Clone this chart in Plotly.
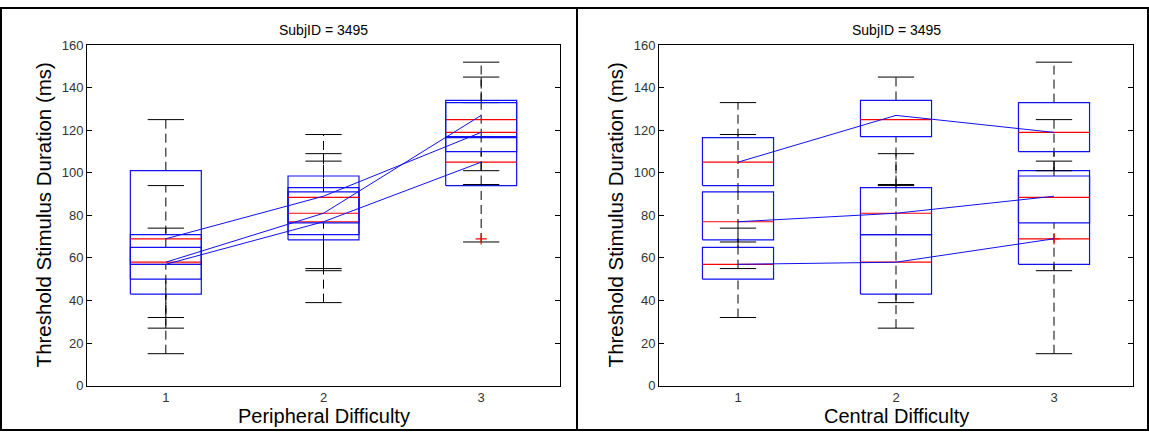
import plotly.graph_objects as go

W, H = 1149, 439

# Difficulty levels (positions on both x axes)
levels = [1, 2, 3]
tick_text = ["1", "2", "3"]
y_ticks = [0, 20, 40, 60, 80, 100, 120, 140, 160]

# Box statistics per condition: rows = peripheral difficulty 1..3,
# columns = central difficulty 1..3
q1 = [[50, 43, 57], [68.5, 71, 76.5], [94, 117, 110]]
median = [[57, 58, 69], [77, 81, 88.5], [105, 125, 119]]
q3 = [[65, 71, 101], [91, 93, 98.5], [116.5, 134, 133]]
whisker_lo = [[32, 27, 15], [55, 39, 54], [67.5, 94.5, 101]]
whisker_hi = [[74, 94, 125], [118, 109, 105.5], [133, 145, 152]]
outliers = [[[], [], []], [[], [], []], [[], [], [69]]]
# Condition means joined by the connecting lines
means = [[57, 58, 69], [77, 81, 89], [105, 127, 119]]

subject_title = "SubjID = 3495"
y_title = "Threshold Stimulus Duration (ms)"
x_titles = ["Peripheral Difficulty", "Central Difficulty"]

FONT = "Liberation Sans, Arial, Helvetica, sans-serif"
BLUE = "#1010f0"
RED = "#ff0000"
BOX_HALF = 0.225
CAP_HALF = 0.115


def px_x(p):
    return p / W


def px_y(p):
    return 1 - p / H


fig = go.Figure()


def add_box(x, lo, a, m, b, hi, outs, xa, ya):
    common = dict(xaxis=xa, yaxis=ya, hoverinfo="skip", showlegend=False)
    # whiskers
    fig.add_trace(go.Scatter(x=[x, x, None, x, x], y=[b, hi, None, lo, a], mode="lines",
                             line=dict(color="black", width=1, dash="9px,5px"), **common))
    # whisker caps
    fig.add_trace(go.Scatter(x=[x - CAP_HALF, x + CAP_HALF, None, x - CAP_HALF, x + CAP_HALF],
                             y=[hi, hi, None, lo, lo], mode="lines",
                             line=dict(color="black", width=1), **common))
    # box
    fig.add_trace(go.Scatter(x=[x - BOX_HALF, x + BOX_HALF, x + BOX_HALF, x - BOX_HALF, x - BOX_HALF],
                             y=[a, a, b, b, a], mode="lines",
                             line=dict(color=BLUE, width=1.2), **common))
    # median
    fig.add_trace(go.Scatter(x=[x - BOX_HALF, x + BOX_HALF], y=[m, m], mode="lines",
                             line=dict(color=RED, width=1.2), **common))
    if outs:
        fig.add_trace(go.Scatter(x=[x] * len(outs), y=outs, mode="markers",
                                 marker=dict(symbol="cross-thin", size=8,
                                             line=dict(color=RED, width=1.2)), **common))


# Left panel: grouped by peripheral difficulty, one box per central level
for c in range(3):
    for p in range(3):
        add_box(levels[p], whisker_lo[p][c], q1[p][c], median[p][c], q3[p][c],
                whisker_hi[p][c], outliers[p][c], "x", "y")
for c in range(3):
    fig.add_trace(go.Scatter(x=levels, y=[means[p][c] for p in range(3)], mode="lines",
                             line=dict(color=BLUE, width=1), xaxis="x", yaxis="y",
                             hoverinfo="skip", showlegend=False))

# Right panel: grouped by central difficulty, one box per peripheral level
for p in range(3):
    for c in range(3):
        add_box(levels[c], whisker_lo[p][c], q1[p][c], median[p][c], q3[p][c],
                whisker_hi[p][c], outliers[p][c], "x2", "y2")
for p in range(3):
    fig.add_trace(go.Scatter(x=levels, y=means[p], mode="lines",
                             line=dict(color=BLUE, width=1), xaxis="x2", yaxis="y2",
                             hoverinfo="skip", showlegend=False))

ydom = [px_y(392), px_y(39.5)]
xdoms = [[px_x(87), px_x(560)], [px_x(659), px_x(1133)]]

xcommon = dict(range=[0.5, 3.5], tickvals=levels, ticktext=tick_text, ticks="",
               showline=True, linecolor="black", linewidth=1, mirror=True,
               showgrid=False, zeroline=False,
               tickfont=dict(family=FONT, size=13, color="#333333"))
ycommon = dict(range=[0, 160], tickvals=y_ticks, ticks="inside", ticklen=5,
               tickcolor="black", tickwidth=1,
               showline=True, linecolor="black", linewidth=1, mirror="ticks",
               showgrid=False, zeroline=False,
               tickfont=dict(family=FONT, size=13, color="#333333"))

fig.update_layout(
    width=W, height=H, margin=dict(l=0, r=0, t=0, b=0),
    paper_bgcolor="white", plot_bgcolor="white", showlegend=False,
    xaxis=dict(domain=xdoms[0], anchor="y", **xcommon),
    yaxis=dict(domain=ydom, anchor="x", **ycommon),
    xaxis2=dict(domain=xdoms[1], anchor="y2", **xcommon),
    yaxis2=dict(domain=ydom, anchor="x2", **ycommon),
)

annotations = []
for i, (x0, x1) in enumerate([(87, 560), (659, 1133)]):
    cx = (x0 + x1) / 2
    annotations.append(dict(text=subject_title, x=px_x(cx), y=px_y(24), xref="paper", yref="paper",
                            xanchor="center", yanchor="middle", showarrow=False,
                            font=dict(family=FONT, size=14, color="black")))
    annotations.append(dict(text=x_titles[i], x=px_x(cx), y=px_y(423), xref="paper", yref="paper",
                            xanchor="center", yanchor="middle", showarrow=False,
                            font=dict(family=FONT, size=20, color="black")))
    annotations.append(dict(text=y_title, x=px_x(x0 - 44), y=px_y(215.75), xref="paper", yref="paper",
                            xanchor="center", yanchor="middle", showarrow=False, textangle=-90,
                            font=dict(family=FONT, size=20.5, color="black")))
fig.update_layout(annotations=annotations)

# Panel frames
frame = dict(color="black", width=2)
shapes = [
    dict(type="rect", xref="paper", yref="paper", x0=px_x(1), x1=px_x(1148), y0=px_y(438), y1=px_y(1),
         line=frame),
    dict(type="line", xref="paper", yref="paper", x0=px_x(577), x1=px_x(577), y0=px_y(438), y1=px_y(1),
         line=frame),
]
fig.update_layout(shapes=shapes)

# Drop the page's default body margin so the figure fills the window exactly
fig.write_html("out.html", post_script="document.body.style.margin = '0px';")
